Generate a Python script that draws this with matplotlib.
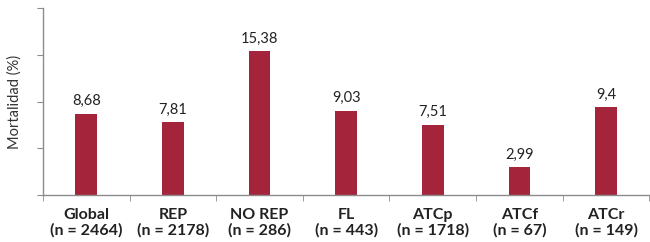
import numpy as np
import matplotlib.pyplot as plt

# Mortality by group
categories = ["Global", "REP", "NO REP", "FL", "ATCp", "ATCf", "ATCr"]
counts = [2464, 2178, 286, 443, 1718, 67, 149]
mortality = [8.68, 7.81, 15.38, 9.03, 7.51, 2.99, 9.4]
value_labels = ["8,68", "7,81", "15,38", "9,03", "7,51", "2,99", "9,4"]

BAR_COLOR = "#A4243B"
AXIS_COLOR = "#8C8C8C"

plt.rcParams["font.family"] = ["Lato", "DejaVu Sans"]

fig = plt.figure(figsize=(6.5, 2.42), dpi=100)
ax = fig.add_axes([0.066, 0.194, 0.933, 0.773])

x = np.arange(len(categories))
bars = ax.bar(x, mortality, width=0.25, color=BAR_COLOR)

for bar, lab in zip(bars, value_labels):
    ax.text(bar.get_x() + bar.get_width() / 2, bar.get_height() + 0.6, lab,
            ha="center", va="bottom", fontsize=10.5, color="#222222")

ax.set_xlim(-0.5, len(categories) - 0.5)
ax.set_ylim(0, 20)
ax.set_yticks(np.arange(0, 21, 5))
ax.set_yticklabels([])
ax.tick_params(axis="y", length=4, color=AXIS_COLOR, direction="out")

ax.set_xticks(x)
ax.set_xticklabels([f"{c}\n(n = {n})" for c, n in zip(categories, counts)],
                   fontsize=11.5, fontweight="bold", color="#222222",
                   linespacing=1.15)
ax.set_xticks(np.arange(-0.5, len(categories)), minor=True)
ax.tick_params(axis="x", which="major", length=0, pad=9)
ax.tick_params(axis="x", which="minor", length=4, color=AXIS_COLOR)

for side in ["top", "right"]:
    ax.spines[side].set_visible(False)
for side in ["left", "bottom"]:
    ax.spines[side].set_color(AXIS_COLOR)
    ax.spines[side].set_linewidth(1)

ax.set_ylabel("Mortalidad (%)", fontsize=10.5, color="#333333", labelpad=8)

fig.savefig("out.png", dpi=100)
